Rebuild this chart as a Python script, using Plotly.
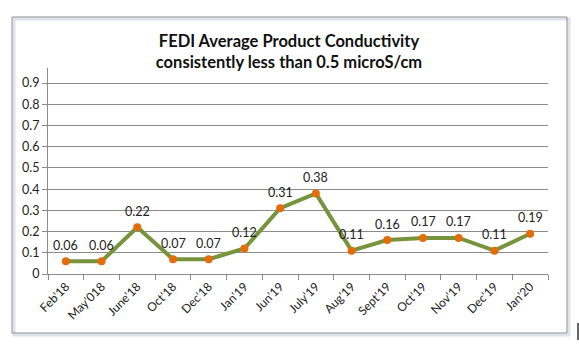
import plotly.graph_objects as go

categories = ["Feb'18", "May'018", "June'18", "Oct'18", "Dec'18", "Jan'19", "Jun'19",
              "July'19", "Aug'19", "Sept'19", "Oct'19", "Nov'19", "Dec'19", "Jan'20"]
values = [0.06, 0.06, 0.22, 0.07, 0.07, 0.12, 0.31, 0.38, 0.11, 0.16, 0.17, 0.17, 0.11, 0.19]
labels = ["0.06", "0.06", "0.22", "0.07", "0.07", "0.12", "0.31", "0.38", "0.11", "0.16",
          "0.17", "0.17", "0.11", "0.19"]
ytick_vals = [0, 0.1, 0.2, 0.3, 0.4, 0.5, 0.6, 0.7, 0.8, 0.9]
ytick_text = ["0", "0.1", "0.2", "0.3", "0.4", "0.5", "0.6", "0.7", "0.8", "0.9"]

FONT = "Lato, 'Open Sans', sans-serif"

fig = go.Figure()
fig.add_trace(go.Scatter(
    x=categories, y=values, mode="lines+markers",
    line=dict(color="#77933C", width=4),
    marker=dict(color="#E46C0A", size=8),
    cliponaxis=False, showlegend=False,
))

for c, v, t in zip(categories, values, labels):
    fig.add_annotation(x=c, y=v, text=t, showarrow=False, yshift=16,
                       font=dict(family=FONT, size=12.5, color="#222222"))

L, R, T, B = 48, 31, 68, 74
W, H = 579, 348
pw, ph = W - L - R, H - T - B

def px_x(p):
    return (p - L) / pw

def px_y(p):
    return (H - B - p) / ph

fig.add_shape(type="rect", xref="paper", yref="paper",
              x0=px_x(14), x1=px_x(569), y0=px_y(335), y1=px_y(19),
              line=dict(color="#DDE3EA", width=3), fillcolor="rgba(0,0,0,0)", layer="below")
fig.add_shape(type="rect", xref="paper", yref="paper",
              x0=px_x(12), x1=px_x(567), y0=px_y(333), y1=px_y(17),
              line=dict(color="#8C8C8C", width=1), fillcolor="rgba(0,0,0,0)", layer="below")
fig.add_shape(type="line", xref="paper", yref="paper",
              x0=px_x(578), x1=px_x(578), y0=px_y(340), y1=px_y(323),
              line=dict(color="#333333", width=1.5))

fig.update_layout(
    width=W, height=H,
    margin=dict(l=L, r=R, t=T, b=B),
    paper_bgcolor="white", plot_bgcolor="white",
    title=dict(text="<b>FEDI Average Product Conductivity<br>consistently less than 0.5 microS/cm</b>",
               x=289 / W, xanchor="center",
               y=1 - 47 / H, yanchor="middle",
               font=dict(family=FONT, size=16.5, color="#111111")),
    xaxis=dict(type="category", tickangle=-45, showline=True, linecolor="#8C8C8C",
               ticks="outside", tickson="boundaries", ticklen=5, tickcolor="#8C8C8C",
               showgrid=False, tickfont=dict(family=FONT, size=12, color="#222222"),
               range=[-0.5, len(categories) - 0.5]),
    yaxis=dict(range=[0, 0.971], tickvals=ytick_vals, ticktext=ytick_text,
               showline=True, linecolor="#8C8C8C", ticks="outside", ticklen=5,
               tickcolor="#8C8C8C", showgrid=True, gridcolor="#8C8C8C", gridwidth=1,
               zeroline=False, tickfont=dict(family=FONT, size=12.5, color="#222222")),
)

fig.write_html("out.html")
